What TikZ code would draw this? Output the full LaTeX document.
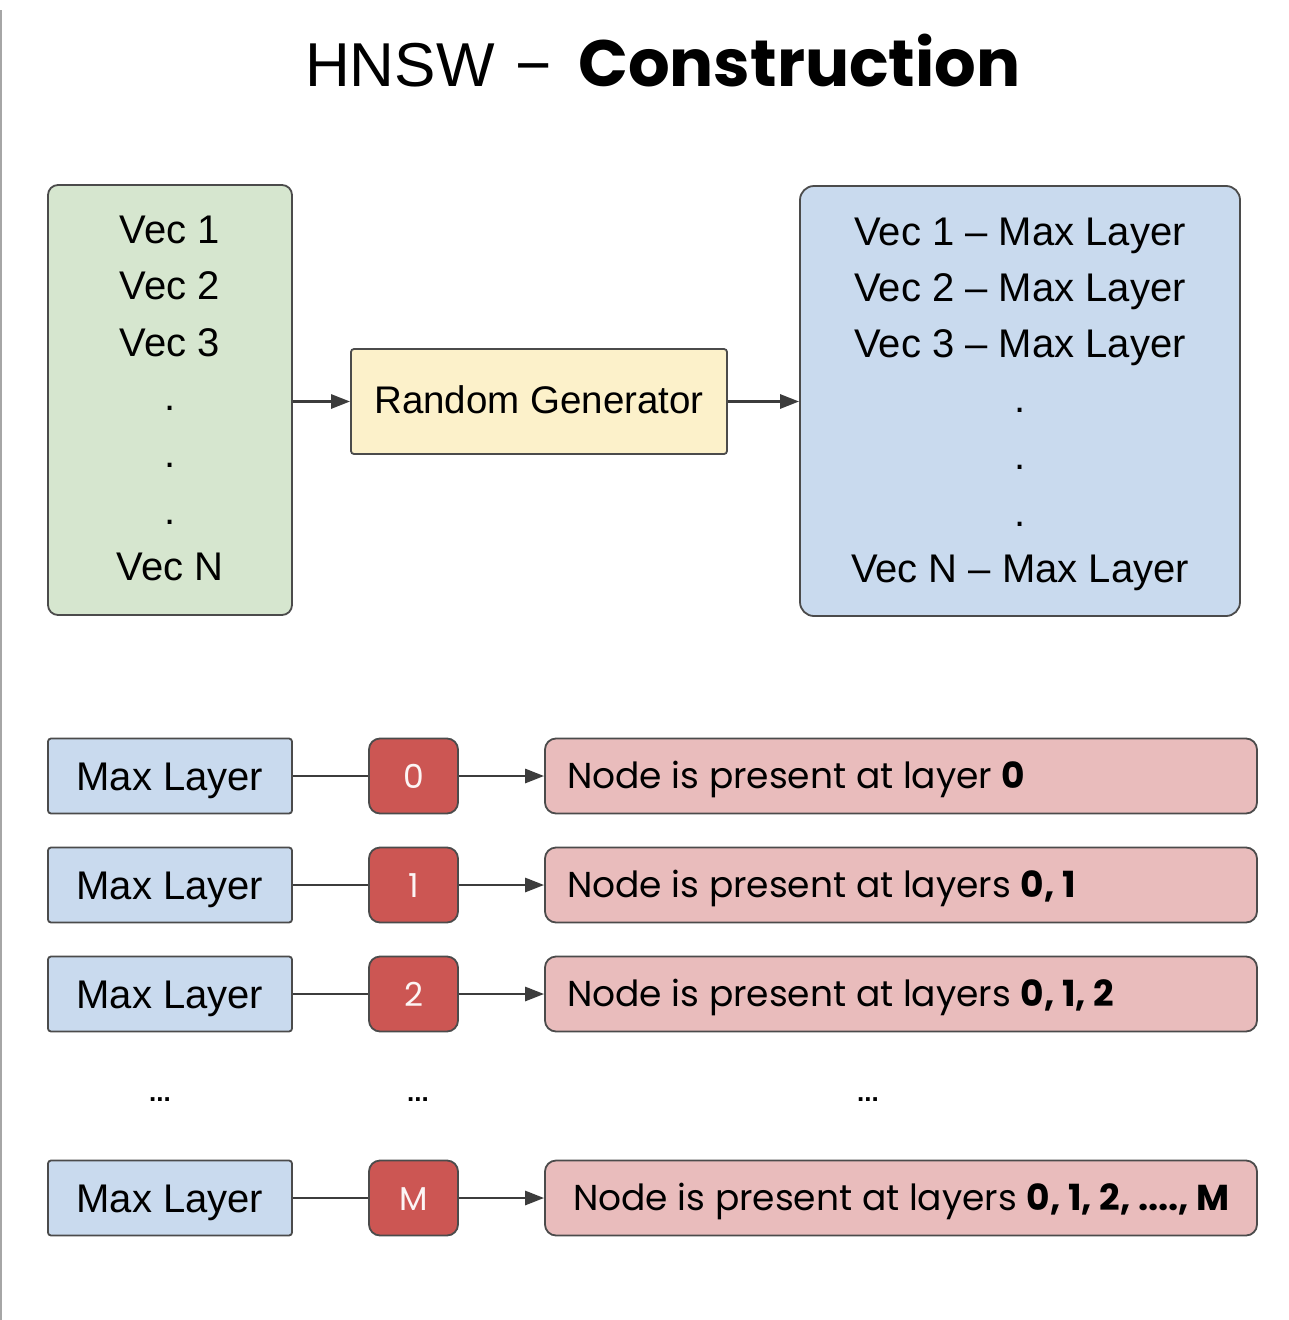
\documentclass[tikz,border=0pt]{standalone}
\usepackage{fontspec}
\setmainfont{Liberation Sans}
\newfontfamily\popfont{Poppins}
\usetikzlibrary{arrows.meta}
\definecolor{gfill}{RGB}{214,230,207}
\definecolor{bfill}{RGB}{201,218,238}
\definecolor{yfill}{RGB}{252,241,202}
\definecolor{rfill}{RGB}{204,86,83}
\definecolor{pfill}{RGB}{233,188,188}
\definecolor{edge}{RGB}{75,75,75}
\definecolor{conn}{RGB}{60,60,60}
\tikzset{
  boxbase/.style={draw=edge, line width=1.8pt, inner sep=0pt},
  greenbox/.style={boxbase, fill=gfill, rounded corners=10pt, minimum width=244pt, minimum height=430pt},
  bluebig/.style={boxbase, fill=bfill, rounded corners=14pt, minimum width=440pt, minimum height=430pt},
  genbox/.style={boxbase, fill=yfill, rounded corners=3pt, minimum width=376pt, minimum height=105pt},
  maxbox/.style={boxbase, fill=bfill, rounded corners=3pt, minimum width=244pt, minimum height=75pt},
  numbox/.style={boxbase, fill=rfill, rounded corners=11pt, minimum width=89pt, minimum height=75pt},
  pinkbox/.style={boxbase, fill=pfill, rounded corners=11pt, minimum width=712pt, minimum height=75pt},
  vectxt/.style={anchor=base, inner sep=0pt, font=\fontsize{40}{40}\selectfont},
  gentxt/.style={anchor=base, inner sep=0pt, font=\fontsize{38.5}{38.5}\selectfont},
  numtxt/.style={anchor=base, inner sep=0pt, text=white!94!rfill, font=\popfont\fontsize{33}{33}\selectfont},
  pinktxt/.style={anchor=base west, inner sep=0pt, font=\popfont\fontsize{36}{36}\selectfont},
  etc/.style={anchor=base, inner sep=0pt, font=\bfseries\fontsize{26}{26}\selectfont},
  titletxt/.style={anchor=base west, inner sep=0pt, font=\fontsize{62}{62}\selectfont},
  arr/.style={draw=conn, line width=2.8pt, -{Triangle[length=19pt,width=14pt]}},
  plain/.style={draw=conn, line width=2.8pt},
}
\begin{document}
\begin{tikzpicture}[x=1pt,y=-1pt]
\useasboundingbox (0,0) rectangle (1288,1320);
\fill[white] (0,0) rectangle (1288,1320);
\draw[gray!70, line width=2pt] (1,10) -- (1,1320);

% title
\node[titletxt] (title1) at (305,86) {HNSW};
\node[titletxt, anchor=base] (title2) at (534,86) {−};
\node[titletxt] (title3) at (578,86) {\popfont\bfseries\fontsize{65.5}{65.5}\selectfont Construction};

% top boxes
\node[greenbox] (vecs) at (170,400) {};
\node[genbox] (gen) at (539,401.5) {};
\node[bluebig] (layers) at (1020,401) {};

\node[vectxt] (v1) at (170,243) {Vec 1};
\node[vectxt] (v2) at (170,299.5) {Vec 2};
\node[vectxt] (v3) at (170,356) {Vec 3};
\node[vectxt] (vd1) at (170,410) {.};
\node[vectxt] (vd2) at (170,467) {.};
\node[vectxt] (vd3) at (170,524) {.};
\node[vectxt] (vn) at (170,580) {Vec N};

\node[gentxt] (gent) at (539,413.5) {Random Generator};

\node[vectxt] (l1) at (1020,245) {Vec 1 -- Max Layer};
\node[vectxt] (l2) at (1020,301) {Vec 2 -- Max Layer};
\node[vectxt] (l3) at (1020,357) {Vec 3 -- Max Layer};
\node[vectxt] (ld1) at (1020,412) {.};
\node[vectxt] (ld2) at (1020,469) {.};
\node[vectxt] (ld3) at (1020,526) {.};
\node[vectxt] (ln) at (1020,582) {Vec N -- Max Layer};

\draw[arr] (vecs.east |- gen.west) -- (gen.west);
\draw[arr] (gen.east) -- (gen.east -| layers.west);

% rows
\foreach \c/\n/\num/\txt/\tx in {
  776/a/0/{Node is present at layer \textbf{0}}/567,
  885/b/1/{Node is present at layers \textbf{0, 1}}/567,
  994/c/2/{Node is present at layers \textbf{0, 1, 2}}/567,
  1198/d/M/{Node is present at layers \textbf{0, 1, 2, ...., M}}/573} {
  \node[maxbox] (max\n) at (170,\c) {};
  \node[vectxt] (maxt\n) at (170,\c+14.5) {Max Layer};
  \node[numbox] (num\n) at (413.5,\c) {};
  \node[numtxt] (numt\n) at (413.5,\c+12) {\num};
  \node[pinkbox] (pink\n) at (901,\c) {};
  \node[pinktxt] (pinkt\n) at (\tx,\c+12.5) {\txt};
  \draw[plain] (max\n.east) -- (num\n.west);
  \draw[arr] (num\n.east) -- (pink\n.west);
}

\node[etc] (e1) at (160,1101) {...};
\node[etc] (e2) at (418,1101) {...};
\node[etc] (e3) at (868,1101) {...};
\end{tikzpicture}
\end{document}
